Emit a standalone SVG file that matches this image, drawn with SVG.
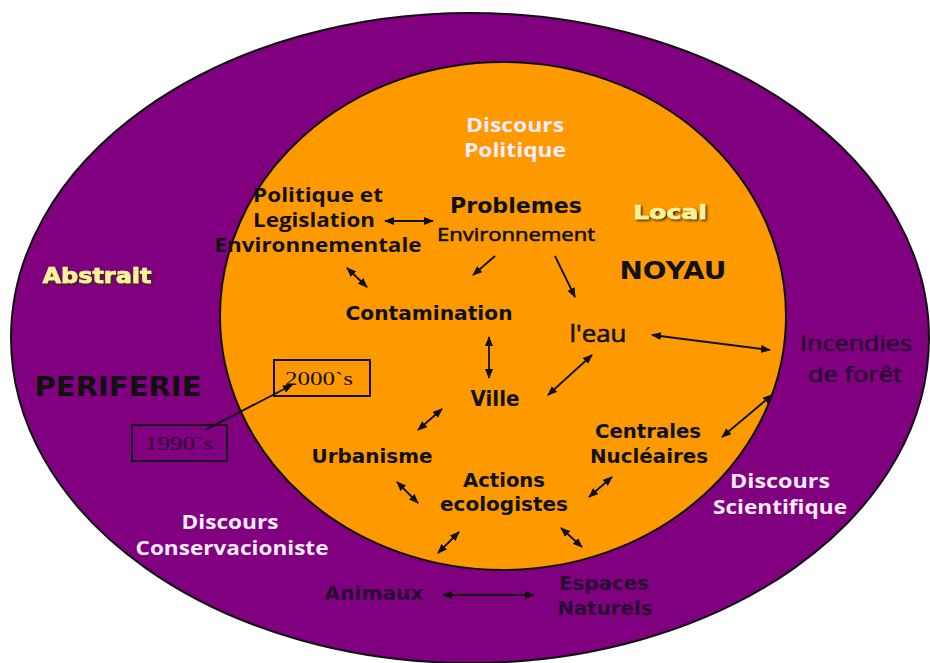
<svg xmlns="http://www.w3.org/2000/svg" width="930" height="663" viewBox="0 0 930 663">
<style>
text{text-anchor:middle}
.t{font-family:"DejaVu Sans",Verdana,sans-serif;font-weight:bold;fill:#111}
.c{font-family:"Open Sans","Noto Sans",sans-serif;font-weight:700}
.r{font-family:"Open Sans","Noto Sans",sans-serif;font-weight:400;fill:#111}
.m{stroke-width:0.6}
.s{font-family:"Liberation Serif","Times New Roman",serif;font-size:19px}
.w{fill:#fcecfc}
.d{fill:#2a0a33}
.y{fill:#f8f29a;stroke:#f8f29a;stroke-width:0.7;filter:url(#sh)}
.ln{stroke:#111;stroke-width:1.8;fill:none;marker-end:url(#ah)}
.bi{marker-start:url(#ah)}
</style>
<defs>
<marker id="ah" markerUnits="userSpaceOnUse" markerWidth="10" markerHeight="8" refX="9" refY="4" orient="auto-start-reverse">
<path d="M0,0 L10,4 L0,8 z" fill="#111"/>
</marker>
<filter id="sh" x="-10%" y="-20%" width="130%" height="150%">
<feDropShadow dx="1.5" dy="1.5" stdDeviation="0.8" flood-color="#3a2a10"/>
</filter>
</defs>
<rect width="930" height="663" fill="#fff"/>
<g id="periferie">
<ellipse cx="470" cy="338" rx="459" ry="325" fill="#800080" stroke="#111" stroke-width="2"/>
</g>
<g id="noyau">
<ellipse cx="503" cy="316" rx="283" ry="254" fill="#ff9900" stroke="#111" stroke-width="2"/>
</g>
<g id="connectors">
<line class="ln bi" x1="385" y1="221" x2="433" y2="221"/>
<line class="ln bi" x1="347" y1="268" x2="367" y2="287"/>
<line class="ln" x1="495" y1="256" x2="473" y2="275"/>
<line class="ln" x1="555" y1="256" x2="575" y2="297"/>
<line class="ln bi" x1="489" y1="337" x2="489" y2="378"/>
<line class="ln bi" x1="652" y1="335" x2="770" y2="350"/>
<line class="ln bi" x1="592" y1="355" x2="548" y2="395"/>
<line class="ln bi" x1="442" y1="409" x2="418" y2="430"/>
<line class="ln bi" x1="772" y1="395" x2="722" y2="437"/>
<line class="ln bi" x1="397" y1="482" x2="418" y2="503"/>
<line class="ln bi" x1="612" y1="477" x2="589" y2="497"/>
<line class="ln bi" x1="459" y1="532" x2="438" y2="553"/>
<line class="ln bi" x1="561" y1="528" x2="582" y2="547"/>
<line class="ln bi" x1="443" y1="595" x2="534" y2="595"/>
<line class="ln" x1="205" y1="430" x2="292" y2="385"/>
</g>
<g id="labels">
<text class="c w" font-size="20" x="515" y="132" textLength="98" lengthAdjust="spacingAndGlyphs">Discours</text>
<text class="c w" font-size="20" x="515" y="157" textLength="102" lengthAdjust="spacingAndGlyphs">Politique</text>
<text class="t y" font-size="20" x="670" y="219" textLength="74" lengthAdjust="spacingAndGlyphs">Local</text>
<text class="t" font-size="24" x="673" y="279" textLength="107" lengthAdjust="spacingAndGlyphs">NOYAU</text>
<text class="t y" font-size="22" x="97" y="283" textLength="109" lengthAdjust="spacingAndGlyphs">Abstrait</text>
<text class="t" font-size="26" x="118" y="396" textLength="167" lengthAdjust="spacingAndGlyphs">PERIFERIE</text>
<text class="c w" font-size="19" x="780" y="488" textLength="100" lengthAdjust="spacingAndGlyphs">Discours</text>
<text class="c w" font-size="19" x="780" y="514" textLength="134" lengthAdjust="spacingAndGlyphs">Scientifique</text>
<text class="c w" font-size="19" x="230" y="529" textLength="97" lengthAdjust="spacingAndGlyphs">Discours</text>
<text class="c w" font-size="19" x="232" y="555" textLength="193" lengthAdjust="spacingAndGlyphs">Conservacioniste</text>
</g>
<g id="politique">
<text class="c" font-size="20" fill="#111" x="318" y="202" textLength="130" lengthAdjust="spacingAndGlyphs">Politique et</text>
<text class="c" font-size="20" fill="#111" x="314" y="227" textLength="122" lengthAdjust="spacingAndGlyphs">Legislation</text>
<text class="c" font-size="20" fill="#111" x="318" y="252" textLength="207" lengthAdjust="spacingAndGlyphs">Environnementale</text>
</g>
<g id="problemes">
<text class="t" font-size="22" x="516" y="213" textLength="132" lengthAdjust="spacingAndGlyphs">Problemes</text>
<text class="r m" font-size="19" stroke="#111" x="516" y="241" textLength="158" lengthAdjust="spacingAndGlyphs">Environnement</text>
</g>
<g id="contamination">
<text class="t" font-size="20" x="429" y="320" textLength="167" lengthAdjust="spacingAndGlyphs">Contamination</text>
</g>
<g id="eau">
<text class="r m" font-size="23" stroke="#111" x="598" y="342" textLength="57" lengthAdjust="spacingAndGlyphs">l'eau</text>
</g>
<g id="incendies">
<text class="r d m" font-size="22" stroke="#2a0a33" x="856" y="351" textLength="112" lengthAdjust="spacingAndGlyphs">Incendies</text>
<text class="r d m" font-size="22" stroke="#2a0a33" x="855" y="382" textLength="94" lengthAdjust="spacingAndGlyphs">de forêt</text>
</g>
<g id="box2000">
<rect x="274" y="360" width="96" height="36" fill="none" stroke="#111" stroke-width="2"/>
<text class="s" fill="#111" x="319" y="385" textLength="68" lengthAdjust="spacingAndGlyphs">2000`s</text>
</g>
<g id="box1990">
<rect x="132" y="425" width="95" height="36" fill="none" stroke="#1a0a20" stroke-width="2"/>
<text class="s d" x="179" y="450" textLength="68" lengthAdjust="spacingAndGlyphs">1990`s</text>
</g>
<g id="ville">
<text class="t" font-size="21" x="495" y="406" textLength="49" lengthAdjust="spacingAndGlyphs">Ville</text>
</g>
<g id="urbanisme">
<text class="t" font-size="20" x="372" y="463" textLength="121" lengthAdjust="spacingAndGlyphs">Urbanisme</text>
</g>
<g id="centrales">
<text class="t" font-size="20" x="648" y="438" textLength="106" lengthAdjust="spacingAndGlyphs">Centrales</text>
<text class="t" font-size="20" x="649" y="463" textLength="118" lengthAdjust="spacingAndGlyphs">Nucléaires</text>
</g>
<g id="actions">
<text class="t" font-size="20" x="504" y="487" textLength="82" lengthAdjust="spacingAndGlyphs">Actions</text>
<text class="t" font-size="20" x="504" y="511" textLength="128" lengthAdjust="spacingAndGlyphs">ecologistes</text>
</g>
<g id="animaux">
<text class="t d" font-size="19" x="374" y="600" textLength="99" lengthAdjust="spacingAndGlyphs">Animaux</text>
</g>
<g id="espaces">
<text class="t d" font-size="20" x="604" y="590" textLength="90" lengthAdjust="spacingAndGlyphs">Espaces</text>
<text class="t d" font-size="20" x="605" y="615" textLength="95" lengthAdjust="spacingAndGlyphs">Naturels</text>
</g>
</svg>
